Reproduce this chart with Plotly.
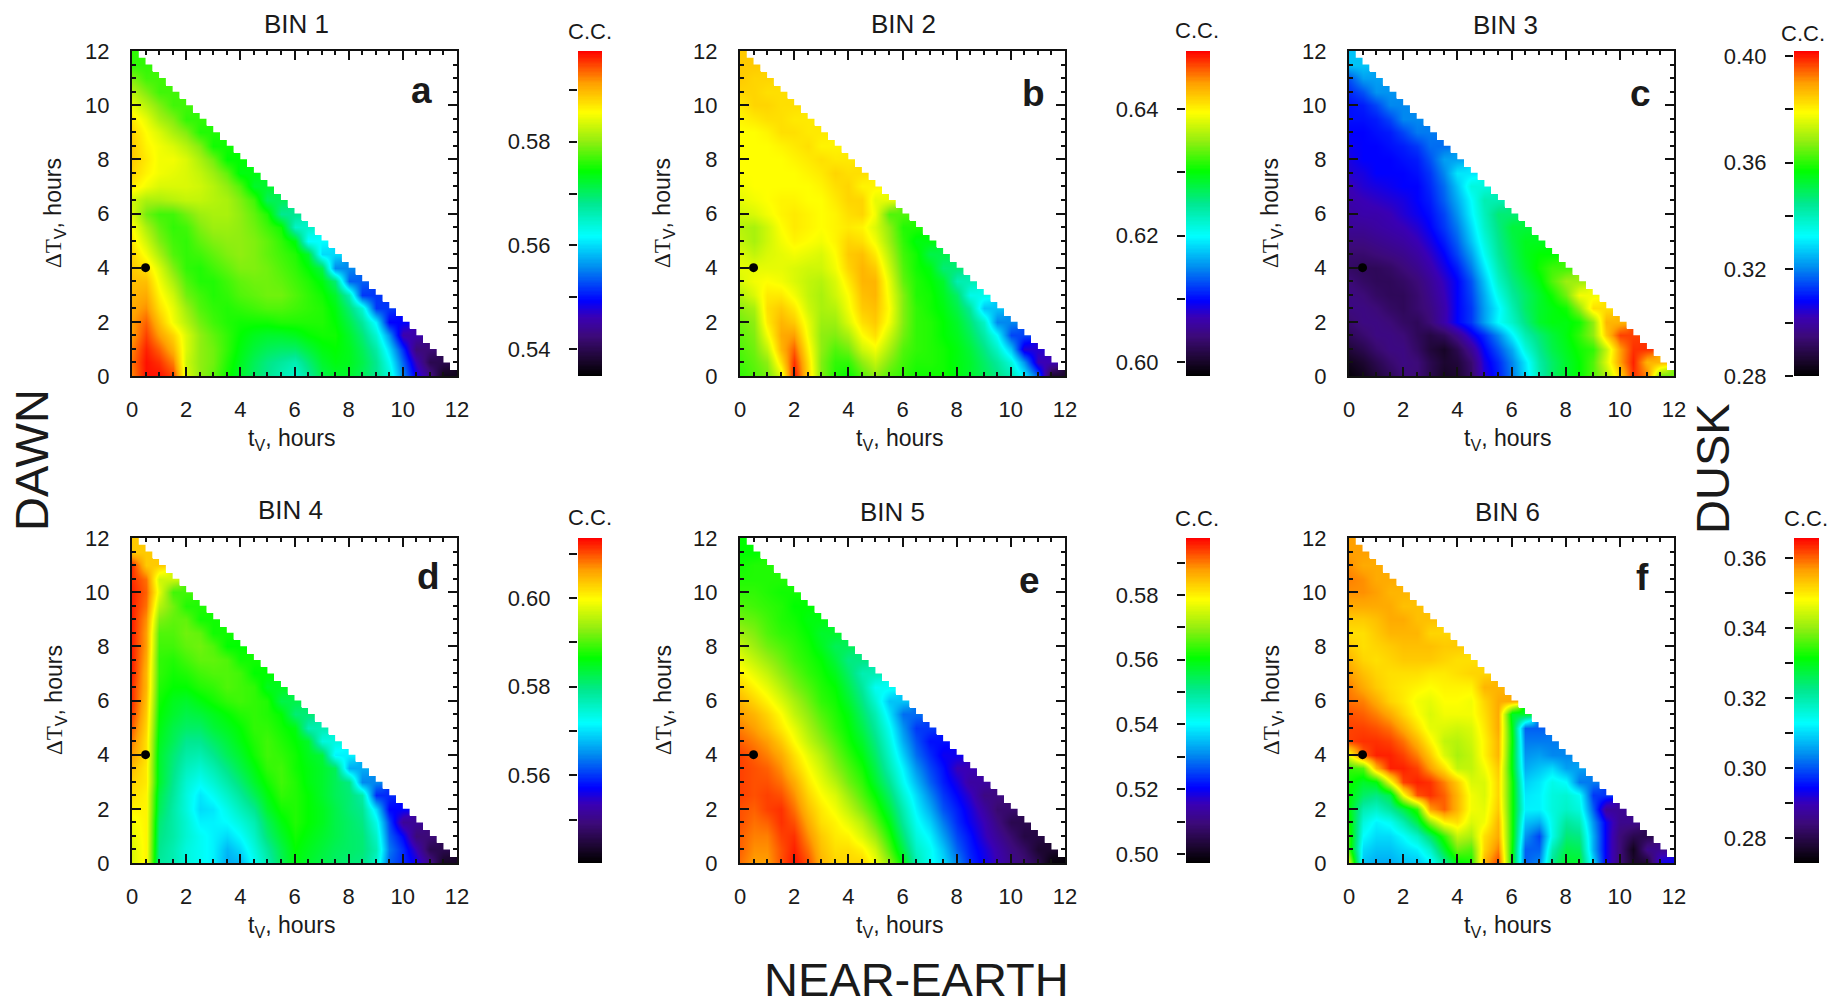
import numpy as np
import plotly.graph_objects as go

# Readings from the picture: position on each panel's colour bar, in percent of its height.
# Row k is dT = 0.5*k hours, column i is t = 0.5*i hours.
BIN1 = [
[92,99,99,96,78,72,69,64,60,56,53,50,47,52,58,60,60,57,53,47,33,22,14,3],
[93,99,97,92,77,72,70,65,61,57,54,52,50,55,60,62,61,58,53,44,30,18,8],
[92,98,94,88,78,72,70,66,62,59,57,56,56,59,62,63,61,57,51,40,26,12],
[90,96,90,85,78,72,69,66,63,61,60,60,61,63,64,64,60,55,47,34,17],
[90,94,87,80,75,70,67,65,64,64,64,65,65,65,65,63,58,52,42,23],
[89,91,84,79,73,68,66,65,66,67,68,68,67,66,65,62,55,47,27],
[88,89,82,77,70,67,65,66,68,69,70,70,68,66,64,60,50,27],
[87,87,80,74,68,65,65,67,69,70,70,69,67,65,62,55,30],
[86,84,78,71,66,65,67,69,71,71,70,68,66,63,58,33],
[85,80,74,68,66,67,69,71,72,71,69,67,65,60,40],
[83,77,71,67,66,69,71,72,72,71,69,66,62,43],
[81,74,69,66,67,71,73,73,72,70,67,64,48],
[78,70,67,67,70,73,74,74,72,69,65,53],
[77,74,74,75,76,76,75,74,71,67,57],
[83,80,78,78,78,77,75,72,68,60],
[85,82,80,79,78,76,73,69,62],
[86,83,80,80,78,74,70,63],
[86,82,80,78,75,71,64],
[85,81,78,74,71,65],
[83,79,74,71,66],
[79,75,71,67],
[75,71,67],
[71,67],
[66]]
BIN2 = [
[66,68,70,78,99,85,71,65,63,68,72,68,66,64,64,64,62,60,57,54,50,42,30,5],
[67,69,72,84,97,84,71,66,66,72,76,71,67,65,65,64,62,60,56,52,46,34,18],
[68,70,76,88,94,82,72,68,70,77,80,74,68,66,65,64,62,59,54,48,38,20],
[69,71,80,89,90,80,72,71,74,81,84,77,70,66,65,63,61,57,51,43,28],
[70,72,83,88,86,79,73,73,78,84,86,80,71,66,65,63,60,55,48,33],
[72,74,84,86,83,77,74,75,80,86,87,81,71,66,64,62,58,52,38],
[75,78,83,83,80,76,74,77,81,87,88,80,71,65,64,61,56,45],
[78,80,81,80,78,76,75,78,83,88,88,79,69,65,63,60,50],
[79,79,79,79,78,77,77,80,85,88,86,77,68,64,62,55],
[78,76,78,79,80,79,78,81,86,87,83,75,67,64,58],
[76,74,77,80,82,81,80,82,85,84,80,73,66,62],
[75,74,77,81,83,82,81,82,83,82,78,72,65],
[77,78,80,82,83,82,81,82,84,85,80,68],
[79,80,81,82,82,81,81,83,85,85,79],
[80,81,81,81,81,81,82,84,85,82],
[81,81,81,81,81,82,83,85,84],
[81,81,81,81,82,83,84,83],
[81,81,81,82,83,84,82],
[81,81,82,84,84,83],
[82,83,84,84,83],
[83,85,85,84],
[85,85,84],
[86,85],
[86]]
BIN3 = [
[1,3,6,9,12,12,8,4,5,10,20,25,32,40,50,56,60,63,68,74,85,97,92,70],
[3,5,8,11,13,12,8,5,6,11,21,26,33,41,51,56,60,63,68,78,90,98,88],
[6,8,11,13,13,10,6,4,8,15,23,29,36,46,53,58,61,64,66,76,90,97],
[9,11,13,13,12,9,7,9,14,21,26,33,42,50,55,59,62,66,72,86,96],
[11,13,13,12,10,9,12,17,23,27,35,43,48,54,60,62,62,64,72,88],
[13,13,12,10,9,11,13,17,23,27,35,42,50,56,60,62,64,72,84],
[13,12,10,9,9,11,14,18,23,28,36,45,52,56,60,64,70,80],
[12,10,9,9,10,12,15,19,23,29,38,48,54,58,62,68,73],
[10,9,9,10,12,14,17,21,25,32,41,50,56,60,64,67],
[11,11,12,13,14,16,19,23,28,35,44,52,57,61,63],
[13,13,14,15,16,18,21,25,30,38,46,53,58,61],
[15,15,16,17,18,20,23,27,32,40,48,54,59],
[16,17,17,18,20,22,24,28,34,42,49,55],
[17,18,19,20,21,23,25,30,36,43,50],
[18,20,21,22,23,23,26,31,38,46],
[20,21,23,23,23,24,27,33,41],
[21,23,23,23,24,25,29,35],
[22,23,23,24,25,27,31],
[23,23,24,25,28,32],
[24,24,25,28,33],
[24,25,28,33],
[26,29,34],
[29,35],
[38]]
BIN4 = [
[78,82,52,50,46,44,42,36,37,44,50,57,62,60,58,56,55,54,48,30,26,22,14,4],
[78,82,53,50,46,44,42,37,40,46,52,58,63,61,59,57,56,55,50,32,26,18,8],
[79,82,54,51,47,44,42,40,43,48,55,60,64,62,60,58,56,55,48,30,23,12],
[80,82,55,51,47,42,42,43,46,50,57,62,65,63,61,58,56,54,45,28,15],
[82,82,57,51,46,40,41,45,49,53,60,64,65,63,61,58,55,53,40,23],
[84,82,58,52,46,41,44,48,52,57,62,66,65,63,60,57,55,51,26],
[85,83,60,53,47,44,47,51,55,60,64,67,65,62,60,57,54,33],
[87,83,60,54,49,47,50,54,58,62,66,67,64,62,60,57,36],
[90,84,60,55,51,50,53,57,60,64,67,66,64,61,59,42],
[92,84,61,57,53,53,56,59,62,65,67,65,63,60,46],
[94,85,62,58,56,56,59,61,63,66,66,64,62,50],
[96,86,63,60,58,59,61,63,65,66,65,63,55],
[97,87,64,61,60,62,64,66,67,66,65,58],
[97,88,65,63,63,65,66,68,67,66,61],
[98,88,66,64,65,67,68,68,67,63],
[98,89,66,65,67,69,69,68,64],
[98,90,67,67,69,70,68,63],
[98,90,68,68,70,69,64],
[98,91,71,69,69,64],
[98,93,75,70,65],
[98,94,79,67],
[97,93,77],
[97,86],
[86]]
BIN5 = [
[93,90,90,95,99,95,88,85,85,85,80,72,62,50,44,40,33,26,22,18,14,12,8,1],
[94,91,91,95,98,93,87,84,84,82,77,68,58,48,44,38,30,25,21,17,13,10,5],
[94,92,92,96,97,91,86,83,82,78,73,65,55,46,42,35,28,24,19,15,11,7],
[95,93,94,97,95,89,84,82,79,75,69,62,52,44,39,32,26,22,18,13,8],
[95,94,96,97,93,87,83,80,76,71,66,59,50,42,36,29,25,21,16,11],
[96,95,96,95,91,85,81,78,73,68,63,56,47,40,33,27,23,19,13],
[96,95,95,93,89,83,79,75,70,66,60,53,44,37,30,25,21,16],
[96,95,94,91,86,81,77,72,68,64,58,50,42,34,28,24,18],
[96,94,92,89,84,79,75,70,66,62,56,48,39,31,26,22],
[94,92,90,86,81,76,72,68,64,60,54,46,36,29,24],
[92,90,87,83,79,74,70,66,63,58,52,44,34,27],
[90,88,85,81,76,72,68,65,62,56,50,41,31],
[88,85,82,78,74,70,66,64,60,54,47,38],
[85,82,79,75,71,68,65,63,58,52,44],
[82,79,76,72,69,66,64,61,56,50],
[79,76,73,70,67,65,63,59,54],
[76,73,70,68,66,64,61,57],
[73,71,68,66,65,63,60],
[70,69,67,65,64,62],
[68,67,66,65,63],
[66,66,65,64],
[65,65,65],
[64,65],
[63]]
BIN6 = [
[78,38,36,36,38,38,42,52,62,64,88,96,62,30,33,53,60,60,40,22,12,5,5,22],
[66,40,38,38,40,42,48,60,70,68,85,92,63,30,30,50,58,57,36,22,12,3,14],
[66,43,40,40,43,48,56,66,76,74,84,89,64,34,28,45,55,54,36,22,12,8],
[64,46,42,44,50,58,72,82,84,78,80,88,64,38,36,45,52,50,34,22,14],
[62,50,48,52,58,66,90,94,88,80,79,86,64,42,42,46,48,46,30,15],
[63,56,54,58,80,95,97,94,88,80,78,85,64,41,42,46,47,44,27],
[64,60,62,80,96,98,97,92,86,78,78,85,64,39,41,45,43,32],
[66,68,88,98,98,96,90,84,76,76,80,86,62,36,38,40,35],
[80,94,98,98,96,92,86,78,74,76,82,88,62,34,35,33],
[96,97,97,96,93,88,82,76,75,77,82,88,63,32,32],
[96,96,95,93,89,84,79,78,77,78,83,89,62,30],
[95,94,92,89,85,81,78,80,80,80,84,89,60],
[93,92,89,85,83,80,79,81,81,80,85,89],
[92,89,86,84,83,82,81,82,82,82,88],
[90,87,85,84,84,84,83,83,84,85],
[88,85,84,85,86,86,86,85,84],
[86,84,85,86,87,87,87,86],
[84,84,86,88,88,88,85],
[86,86,87,89,89,87],
[89,89,89,89,87],
[91,91,90,88],
[92,91,89],
[91,89],
[90]]
PANELS = [BIN1, BIN2, BIN3, BIN4, BIN5, BIN6]
TITLES = ["BIN 1", "BIN 2", "BIN 3", "BIN 4", "BIN 5", "BIN 6"]
LETTERS = ["a", "b", "c", "d", "e", "f"]
CC_MIN = [0.5348, 0.5978, 0.2800, 0.5402, 0.4972, 0.2729]
CC_MAX = [0.5975, 0.6492, 0.4019, 0.6135, 0.5976, 0.3657]
CC_MAJOR = [[0.54, 0.56, 0.58], [0.60, 0.62, 0.64], [0.28, 0.32, 0.36, 0.40],
            [0.56, 0.58, 0.60], [0.50, 0.52, 0.54, 0.56, 0.58], [0.28, 0.30, 0.32, 0.34, 0.36]]
CC_MINOR = [[0.55, 0.57, 0.59], [0.61, 0.63], [0.30, 0.34, 0.38],
            [0.55, 0.57, 0.59, 0.61], [0.51, 0.53, 0.55, 0.57, 0.59], [0.29, 0.31, 0.33, 0.35]]
DOT_T = [0.5]
DOT_DT = [4]

W, H = 1831, 1006
FONT = "Liberation Sans"
COLORSCALE = [[0, "#000000"], [0.05, "#1c0630"], [0.12, "#3c0a78"], [0.18, "#3a00b4"],
              [0.23, "#0000ff"], [0.33, "#0088f0"], [0.43, "#00ffff"], [0.53, "#00e890"],
              [0.63, "#00ff00"], [0.72, "#90ee10"], [0.81, "#ffff00"], [0.90, "#ffa000"],
              [1, "#ff0000"]]

PLOT_X = [(132, 457), (740, 1065), (1349, 1674)] * 2
PLOT_Y = [(51, 376)] * 3 + [(538, 863)] * 3
BAR_X = [(578, 602), (1186, 1210), (1794, 1819)] * 2
TITLE_POS = [(296, 24), (903, 24), (1505, 25), (290, 510), (892, 512), (1507, 512)]
LETTER_POS = [(421, 91), (1033, 94), (1640, 93), (428, 576), (1029, 580), (1642, 577)]
CC_POS = [(590, 32), (1197, 30), (1803, 33), (590, 517), (1197, 518), (1806, 518)]
YLAB_X = [55, 664, 1272] * 2
XLAB_X = [291, 899, 1507] * 2


def dom_x(a, b):
    return [a / W, b / W]


def dom_y(top, bot):
    return [1 - bot / H, 1 - top / H]


fig = go.Figure()
annots = []


def note(x, y, text, size, rot=0, bold=False):
    annots.append(dict(xref="paper", yref="paper", x=x / W, y=1 - y / H, text=f"<b>{text}</b>" if bold else text,
                       showarrow=False, textangle=rot, xanchor="center", yanchor="middle",
                       font=dict(family=FONT, size=size, color="#1a1a1a")))


grid = [0.5 * i for i in range(26)]
# white staircase over the empty corner of each triangle (steps of the original's 0.25 h cells)
mask_x, mask_y = [], []
for m in range(48):
    right = 12 - 0.25 * m
    mask_x += [right, right]
    mask_y += [0.25 * m, 0.25 * m + 0.25]
mask_x += [13, 13]
mask_y += [13, -1]

layout = {}
for n in range(6):
    lo, hi = CC_MIN[n], CC_MAX[n]
    # last reading of each row and the top row are repeated once, so the cells reach the staircase
    source = PANELS[n] + [PANELS[n][-1]]
    rows = [[lo + v / 100 * (hi - lo) for v in r + r[-1:]] for r in source]
    rows = [r + [None] * (26 - len(r)) for r in rows]
    rows.append([None] * 26)
    k = 2 * n + 1
    xa, ya = f"x{k}", f"y{k}"
    fig.add_trace(go.Heatmap(x=grid, y=grid, z=rows, zmin=lo, zmax=hi, colorscale=COLORSCALE, zsmooth="best",
                             showscale=False, xaxis=xa, yaxis=ya))
    fig.add_trace(go.Scatter(x=mask_x, y=mask_y, mode="lines", fill="toself", fillcolor="white",
                             line=dict(width=0, color="white"), hoverinfo="skip", showlegend=False,
                             xaxis=xa, yaxis=ya))
    fig.add_trace(go.Scatter(x=DOT_T, y=DOT_DT, mode="markers", marker=dict(size=9, color="black"),
                             showlegend=False, xaxis=xa, yaxis=ya))
    ticks = dict(range=[0, 12], tick0=0, dtick=2, ticks="inside", ticklen=9, tickwidth=1.5, tickcolor="#111",
                 showline=True, linewidth=2, linecolor="#111", mirror="ticks", showgrid=False, zeroline=False,
                 tickfont=dict(family=FONT, size=22, color="#1a1a1a"),
                 minor=dict(dtick=0.5, tick0=0, ticks="inside", ticklen=4, tickwidth=1.5, tickcolor="#111",
                            showgrid=False))
    s = "" if k == 1 else str(k)
    layout[f"xaxis{s}"] = dict(ticks, domain=dom_x(*PLOT_X[n]), anchor=ya, ticklabelstandoff=13)
    layout[f"yaxis{s}"] = dict(ticks, domain=dom_y(*PLOT_Y[n]), anchor=xa, ticklabelstandoff=16)

    # colour bar drawn as its own small axes, so its labels can sit on the left
    k2 = k + 1
    xb, yb = f"x{k2}", f"y{k2}"
    levels = np.linspace(lo, hi, 256).tolist()
    fig.add_trace(go.Heatmap(x=[0, 1], y=levels, z=[[v, v] for v in levels], zmin=lo, zmax=hi,
                             colorscale=COLORSCALE, showscale=False, xaxis=xb, yaxis=yb))
    layout[f"xaxis{k2}"] = dict(domain=dom_x(*BAR_X[n]), anchor=yb, visible=False, range=[0, 1])
    layout[f"yaxis{k2}"] = dict(domain=dom_y(*PLOT_Y[n]), anchor=xb, range=[lo, hi], side="left",
                                tickvals=CC_MAJOR[n], tickformat=".2f", ticks="outside", ticklen=8, tickwidth=1.5,
                                tickcolor="#111", showline=False, showgrid=False, zeroline=False,
                                ticklabelstandoff=14, tickfont=dict(family=FONT, size=22, color="#1a1a1a"),
                                minor=dict(tickvals=CC_MINOR[n], ticks="outside", ticklen=8, tickwidth=1.5,
                                           tickcolor="#111", showgrid=False))

    note(*TITLE_POS[n], TITLES[n], 26)
    note(*LETTER_POS[n], LETTERS[n], 37, bold=True)
    note(*CC_POS[n], "C.C.", 22)
    top, bot = PLOT_Y[n]
    note(YLAB_X[n], top + 162, '<span style="font-family:Liberation Serif">ΔT</span><sub>V</sub>, hours', 23, rot=-90)
    note(XLAB_X[n], bot + 63, "t<sub>V</sub>, hours", 23)

note(31, 460, "DAWN", 47, rot=-90)
note(1712, 469, "DUSK", 47, rot=-90)
note(917, 979, "NEAR-EARTH", 47)

fig.update_layout(width=W, height=H, margin=dict(l=0, r=0, t=0, b=0, autoexpand=False), paper_bgcolor="white",
                  plot_bgcolor="white", showlegend=False, annotations=annots, **layout)
fig.write_html("out.html", config=dict(displayModeBar=False),
               post_script="document.body.style.margin='0';document.documentElement.style.overflow='hidden';")
